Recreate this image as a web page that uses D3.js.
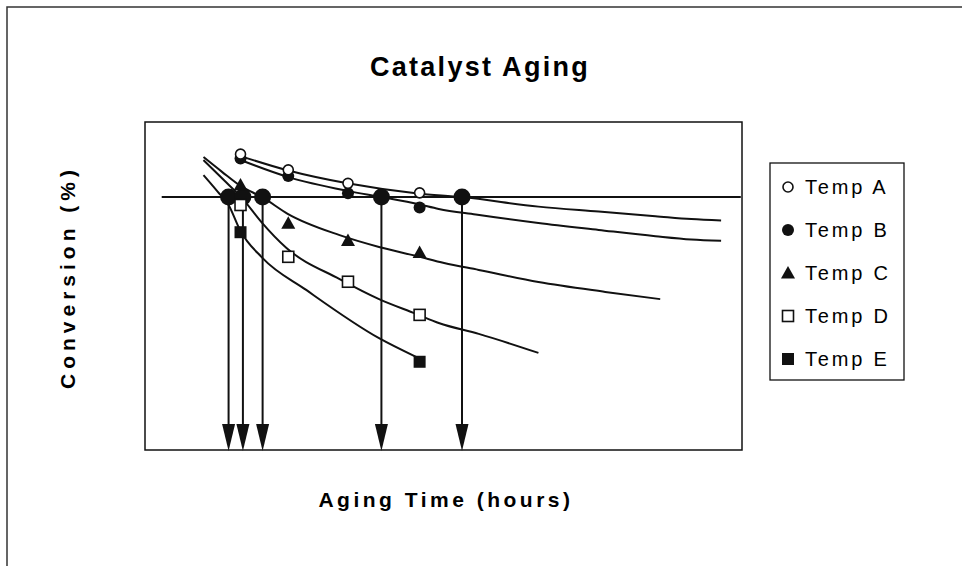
<!DOCTYPE html>
<html>
<head>
<meta charset="utf-8">
<script src="https://cdn.jsdelivr.net/npm/d3@7"></script>
<style>
  body { margin: 0; background: #fff; }
  svg { display: block; font-family: Arial, "Liberation Sans", sans-serif; }
</style>
</head>
<body>
<svg id="chart" width="962" height="566"></svg>
<script>
// measured points (hours, conversion %)
var markerHours = [16, 24, 34, 46];
var tempA = [90.2, 85.4, 81.3, 78.4];
var tempB = [88.9, 83.5, 78.3, 73.9];
var tempC = [80.8, 69.1, 63.9, 60.2];
var tempD = [74.7, 58.9, 51.3, 41.2];
var markerHoursE = [16, 46];
var tempE = [66.4, 26.9];

// fitted aging curves
var fitHoursA = [16.0, 24.0, 33.9, 45.7, 53.1, 65.9, 76.0, 85.5, 91.5, 96.5];
var fitA = [89.6, 85.2, 81.3, 78.2, 77.1, 74.2, 72.7, 71.3, 70.4, 70.0];
var fitHoursB = [16.0, 24.0, 33.9, 39.6, 45.7, 49.2, 55.4, 65.9, 76.0, 85.5, 91.5, 96.5];
var fitB = [88.4, 83.2, 79.0, 77.1, 75.0, 73.5, 71.8, 69.2, 67.1, 65.2, 64.2, 63.8];
var fitHoursC = [9.8, 12.9, 16.0, 19.7, 23.9, 32.6, 39.2, 45.6, 50.1, 55.9, 65.9, 77.1, 86.3];
var fitC = [89.3, 84.8, 80.5, 77.0, 72.0, 65.5, 61.9, 59.1, 57.0, 54.9, 51.2, 48.2, 46.0];
var fitHoursD = [9.8, 13.2, 16.4, 19.5, 23.7, 32.6, 39.2, 45.4, 49.2, 55.9, 65.9];
var fitD = [88.4, 82.3, 76.5, 69.5, 61.6, 52.1, 46.0, 41.5, 38.7, 35.4, 29.6];
var fitHoursE = [9.8, 12.2, 14.0, 15.9, 19.7, 27.0, 39.2, 45.4];
var fitE = [83.8, 78.7, 74.7, 67.1, 58.5, 48.8, 34.1, 28.4];

// minimum conversion line and the hours where each curve reaches it
var minConversion = 77.1;
var minLineHours = [2.8, 99.8];
var crossHours = [14.0, 16.4, 19.7, 39.6, 53.1];

var seriesNames = ["Temp A", "Temp B", "Temp C", "Temp D", "Temp E"];
var seriesSymbols = ["openCircle", "circle", "triangle", "openSquare", "square"];

var svg = d3.select("#chart");
var plot = {left: 145, top: 122, right: 742, bottom: 450};

var x = d3.scaleLinear().domain([0, 100]).range([plot.left, plot.right]);
var y = d3.scaleLinear().domain([0, 100]).range([plot.bottom, plot.top]);

// outer frame (cut off by the page on the right and bottom)
svg.append("rect")
   .attr("x", 7).attr("y", 7)
   .attr("width", 1000).attr("height", 600)
   .attr("fill", "none").attr("stroke", "#333").attr("stroke-width", 1.5);

svg.append("text")
   .attr("x", 480).attr("y", 76)
   .attr("text-anchor", "middle")
   .style("font-size", "27px").style("font-weight", "bold")
   .style("letter-spacing", "2.3px")
   .text("Catalyst Aging");

svg.append("text")
   .attr("transform", "translate(75,277) rotate(-90)")
   .attr("text-anchor", "middle")
   .style("font-size", "21px").style("font-weight", "bold")
   .style("letter-spacing", "5px")
   .text("Conversion (%)");

svg.append("text")
   .attr("x", 446).attr("y", 507)
   .attr("text-anchor", "middle")
   .style("font-size", "21px").style("font-weight", "bold")
   .style("letter-spacing", "3.5px")
   .text("Aging Time (hours)");

// plot box
svg.append("rect")
   .attr("x", plot.left).attr("y", plot.top)
   .attr("width", plot.right - plot.left).attr("height", plot.bottom - plot.top)
   .attr("fill", "none").attr("stroke", "#111").attr("stroke-width", 1.5);

var g = svg.append("g");

var line = d3.line()
             .x(function(d){ return x(d[0]); })
             .y(function(d){ return y(d[1]); })
             .curve(d3.curveMonotoneX);

var fits = [[fitHoursA, fitA], [fitHoursB, fitB], [fitHoursC, fitC], [fitHoursD, fitD], [fitHoursE, fitE]];
fits.forEach(function(f){
	g.append("path")
	 .attr("d", line(d3.zip(f[0], f[1])))
	 .attr("fill", "none").attr("stroke", "#111").attr("stroke-width", 2);
});

// threshold line
g.append("line")
 .attr("x1", x(minLineHours[0])).attr("x2", x(minLineHours[1]))
 .attr("y1", y(minConversion)).attr("y2", y(minConversion))
 .attr("stroke", "#111").attr("stroke-width", 2);

// arrows down to the time axis
crossHours.forEach(function(h){
	var cx = x(h);
	g.append("line")
	 .attr("x1", cx).attr("x2", cx)
	 .attr("y1", y(minConversion)).attr("y2", plot.bottom - 20)
	 .attr("stroke", "#111").attr("stroke-width", 2);
	g.append("path")
	 .attr("d", "M" + (cx - 6.5) + "," + (plot.bottom - 26) + "L" + (cx + 6.5) + "," + (plot.bottom - 26) + "L" + cx + "," + (plot.bottom + 1) + "Z")
	 .attr("fill", "#111");
	g.append("circle")
	 .attr("cx", cx).attr("cy", y(minConversion)).attr("r", 8.5)
	 .attr("fill", "#111");
});

function drawSymbol(sel, type, px, py){
	if(type == "openCircle"){
		sel.append("circle").attr("cx", px).attr("cy", py).attr("r", 5)
		   .attr("fill", "#fff").attr("stroke", "#111").attr("stroke-width", 1.6);
	}
	else if(type == "circle"){
		sel.append("circle").attr("cx", px).attr("cy", py).attr("r", 6)
		   .attr("fill", "#111");
	}
	else if(type == "triangle"){
		sel.append("path")
		   .attr("d", "M" + px + "," + (py - 7) + "L" + (px + 7) + "," + (py + 5.5) + "L" + (px - 7) + "," + (py + 5.5) + "Z")
		   .attr("fill", "#111");
	}
	else if(type == "openSquare"){
		sel.append("rect").attr("x", px - 5.5).attr("y", py - 5.5).attr("width", 11).attr("height", 11)
		   .attr("fill", "#fff").attr("stroke", "#111").attr("stroke-width", 1.6);
	}
	else{
		sel.append("rect").attr("x", px - 6).attr("y", py - 6).attr("width", 12).attr("height", 12)
		   .attr("fill", "#111");
	}
}

var points = [[markerHours, tempA], [markerHours, tempB], [markerHours, tempC], [markerHours, tempD], [markerHoursE, tempE]];
// draw D and E first so A/B circles sit on top like the original
[3, 4, 2, 1, 0].forEach(function(i){
	var p = points[i];
	p[0].forEach(function(h, j){
		drawSymbol(g, seriesSymbols[i], x(h), y(p[1][j]));
	});
});

// legend
var legend = svg.append("g");
legend.append("rect")
	  .attr("x", 770).attr("y", 163).attr("width", 134).attr("height", 217)
	  .attr("fill", "#fff").attr("stroke", "#111").attr("stroke-width", 1.3);

seriesNames.forEach(function(name, i){
	var ly = 187 + i * 43;
	drawSymbol(legend, seriesSymbols[i], 788, ly);
	legend.append("text")
		  .attr("x", 805).attr("y", ly + 7)
		  .style("font-size", "20px")
		  .style("letter-spacing", "2.8px")
		  .text(name);
});
</script>
</body>
</html>
